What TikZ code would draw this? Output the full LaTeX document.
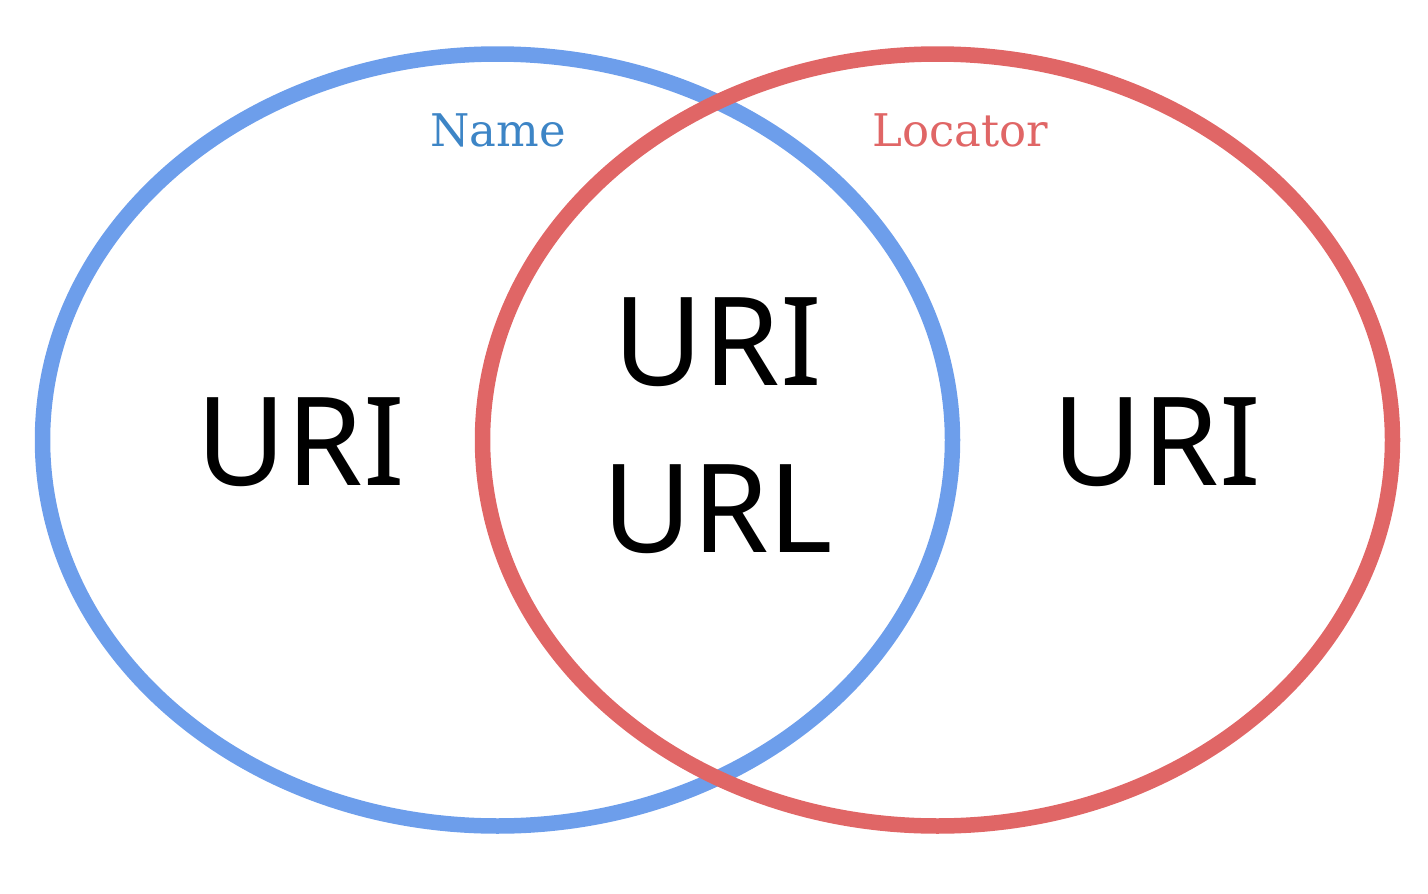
\documentclass[tikz,border=0pt]{standalone}
\usepackage{fontspec}
\setmainfont{Noto Sans}
\newfontfamily\labelserif{DejaVu Serif}
\definecolor{vblue}{HTML}{6D9EEB}
\definecolor{vred}{HTML}{E06666}
\definecolor{tblue}{HTML}{3D85C6}
\begin{document}
\begin{tikzpicture}[x=1pt,y=-1pt,
  setring/.style={line width=15.5pt},
  bigtext/.style={font=\fontsize{123}{150}\selectfont, text=black, inner sep=0pt},
  settitle/.style={font=\labelserif\fontsize{45}{50}\selectfont, inner sep=0pt}]
\useasboundingbox (0,0) rectangle (1428,894);
\draw[setring, vblue] (497.5,440) ellipse [x radius=455, y radius=386];
\draw[setring, vred] (937.5,440) ellipse [x radius=455, y radius=386];
\node[settitle, text=tblue] (name) at (498,130) {Name};
\node[settitle, text=vred] (locator) at (960,130) {Locator};
\node[bigtext] (urileft) at (301,442) {URI};
\node[bigtext] (urimid) at (718,342) {URI};
\node[bigtext] (urlmid) at (718,509) {URL};
\node[bigtext] (uriright) at (1157,442) {URI};
\end{tikzpicture}
\end{document}
